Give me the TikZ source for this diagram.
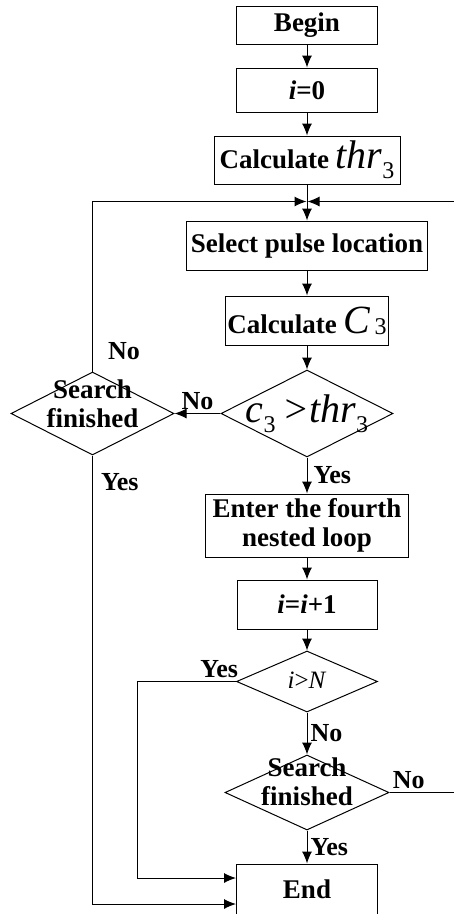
\documentclass[tikz,border=0pt]{standalone}
\usepackage{fontspec}
\setmainfont{Liberation Serif}
\usetikzlibrary{arrows.meta, positioning, shapes.geometric}

\newcommand{\ivar}[1]{{\fontsize{40}{40}\selectfont\mdseries\itshape #1}}
\newcommand{\isub}[2][-10pt]{\raisebox{#1}{\fontsize{24}{24}\selectfont\mdseries\upshape #2}}
\newcommand{\stext}[2][0pt]{\makebox[0pt]{\raisebox{#1}[0pt][0pt]{#2}}}
\newcommand{\dtext}[2][0pt]{\makebox[0pt]{\raisebox{#1}[0pt][0pt]{\begin{tabular}{@{}c@{}}#2\end{tabular}}}}

\begin{document}
\begin{tikzpicture}[
  x=1pt, y=-1pt, line width=1pt,
  >={Latex[length=12pt, width=10pt]},
  box/.style={draw, rectangle, inner sep=2pt, align=center, font=\fontsize{27}{29}\selectfont\bfseries},
  dec/.style={draw, diamond, inner sep=0pt, font=\fontsize{27}{29}\selectfont\bfseries},
  lab/.style={inner sep=3pt, font=\fontsize{26}{28}\selectfont\bfseries}
]
\useasboundingbox (0,0) rectangle (454,914);
\coordinate (edge) at (454,0);
% main column
\node[box, minimum width=141pt, minimum height=38pt] (begin) at (307,25) {Begin};
\node[box, below=23pt of begin, minimum width=141pt, minimum height=44pt] (init) {\textit{i}=0};
\node[box, below=23pt of init, minimum width=186pt, minimum height=48pt] (thr) {Calculate \ivar{thr}\isub{3}};
\node[box, below=36pt of thr, minimum width=241pt, minimum height=49pt] (select) {Select pulse location};
\node[box, below=25pt of select, minimum width=158pt, minimum height=49pt] (calc) {Calculate \ivar{C}\,\isub[-1pt]{3}};
\node[dec, below=24pt of calc, minimum width=172pt, minimum height=87pt] (cmp) {\stext[-8.5pt]{\ivar{c}\isub{3} \ivar{>thr}\isub{3}}};
\node[box, below=36pt of cmp, minimum width=203pt, minimum height=63pt] (enter) {Enter the fourth\\nested loop};
\node[box, below=22pt of enter, minimum width=140pt, minimum height=49pt] (incr) {\textit{i}=\textit{i}+1};
\node[dec, below=21pt of incr, minimum width=141pt, minimum height=61pt] (iN) {\stext[-7pt]{\fontsize{25}{25}\selectfont\mdseries\textit{i}>\textit{N}}};
\node[dec, below=42pt of iN, minimum width=164pt, minimum height=75pt] (done) {\dtext[1pt]{Search\\finished}};
\node[box, below=33pt of done, minimum width=141pt, minimum height=50pt] (end) {End};
% side decision
\node[dec, left=46pt of cmp, minimum width=163pt, minimum height=83pt] (search) {\dtext[0pt]{Search\\finished}};
\coordinate (join) at ([yshift=19pt]select.north);
% connectors
\draw[->] (begin) -- (init);
\draw[->] (init) -- (thr);
\draw[->] (thr) -- (select);
\draw[->] (search.north) |- node[lab, pos=0.06, right=12pt]{No} ([xshift=-0.5pt]join);
\draw[->] (join -| edge) -- ([xshift=0.5pt]join);
\draw[->] (select) -- (calc);
\draw[->] (calc) -- (cmp);
\draw[->] (cmp) -- node[lab, above]{No} (search);
\draw[->] (cmp) -- node[lab, right=3pt]{Yes} (enter);
\draw[->] (enter) -- (incr);
\draw[->] (incr) -- (iN);
\draw[->] (iN) -- node[lab, right]{No} (done);
\draw[->] (done) -- node[lab, right]{Yes} (end);
\draw (done.east) -- node[lab, above, pos=0.3]{No} (done.east -| edge);
\draw[->] (iN.west) -- node[lab, above, pos=0.17]{Yes} ++(-99,0) |- ([yshift=11pt]end.west);
\draw[->] (search.south) |- node[lab, pos=0.03, right=5pt]{Yes} ([yshift=-15pt]end.west);
\end{tikzpicture}
\end{document}
